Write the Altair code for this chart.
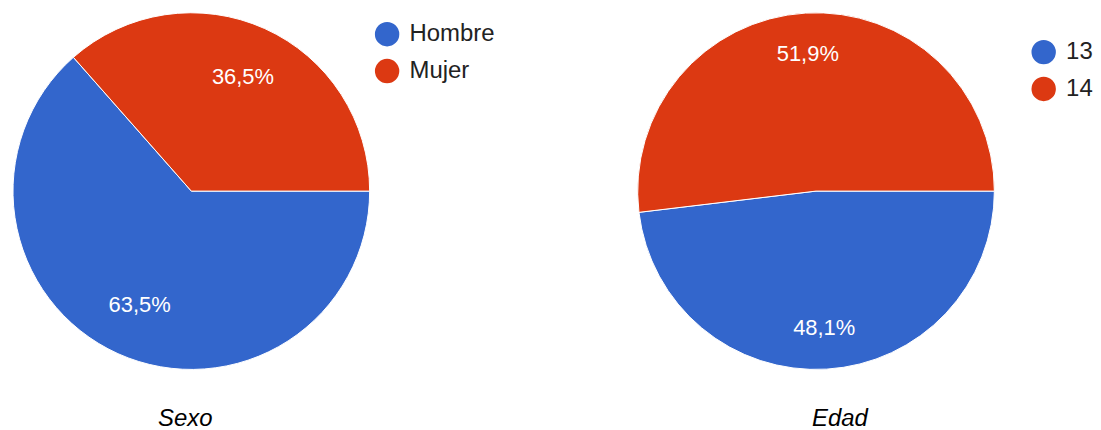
import math
import altair as alt
import pandas as pd

# Data
sexo_cats = ["Hombre", "Mujer"]
sexo_vals = [63.5, 36.5]
sexo_labels = ["63,5%", "36,5%"]

edad_cats = ["13", "14"]
edad_vals = [48.1, 51.9]
edad_labels = ["48,1%", "51,9%"]

colors = ["#3366CC", "#DC3912"]
FONT = "Liberation Sans"


def pie(cats, vals, labels, title, label_r, leg_x, leg_y, title_dx):
    df = pd.DataFrame({"cat": cats, "val": vals, "label": labels,
                       "ord": list(range(len(cats)))})
    base = alt.Chart(df).encode(
        theta=alt.Theta("val:Q", stack=True,
                        scale=alt.Scale(domain=[0, 100],
                                        range=[math.pi / 2, math.pi / 2 + 2 * math.pi])),
        order=alt.Order("ord:Q"),
        detail="cat:N",
    )
    arcs = base.mark_arc(stroke="white", strokeWidth=1).encode(
        color=alt.Color(
            "cat:N",
            sort=cats,
            scale=alt.Scale(domain=cats, range=colors),
            legend=alt.Legend(
                title=None, orient="none", legendX=leg_x, legendY=leg_y,
                symbolType="circle", symbolSize=600, symbolStrokeWidth=0,
                labelFontSize=24, labelFont=FONT, labelColor="#222222",
                labelOffset=10, rowPadding=12, padding=0,
            ),
        )
    )
    text = base.mark_text(radius=label_r, fontSize=22, font=FONT, color="white").encode(
        text="label:N"
    )
    return alt.layer(arcs, text).properties(
        width=358, height=358,
        title=alt.TitleParams(title, orient="bottom", anchor="middle", frame="group",
                              dx=title_dx, offset=36, fontSize=24, fontStyle="italic",
                              fontWeight="normal", font=FONT, color="#000000"),
    ).resolve_scale(color="independent")


left = pie(sexo_cats, sexo_vals, sexo_labels, "Sexo", 126, 363, 9, -6)
right = pie(edad_cats, edad_vals, edad_labels, "Edad", 138, 395, 27, 24)

chart = alt.hconcat(left, right, spacing=141).resolve_scale(
    color="independent", theta="independent"
).properties(
    padding={"left": 3, "top": 2, "right": 0, "bottom": 0}
).configure_view(stroke=None)

chart.save("out.html", embed_options={"renderer": "svg", "actions": False})
